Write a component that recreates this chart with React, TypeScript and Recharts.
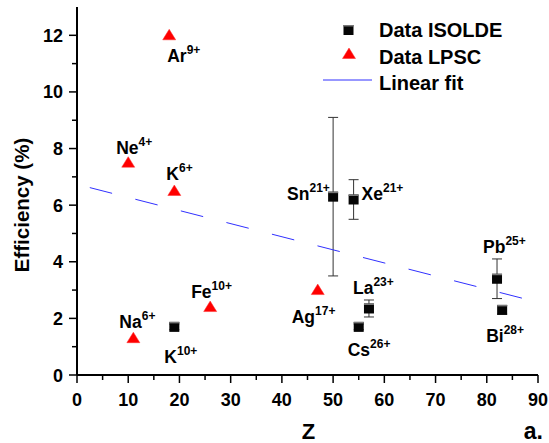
import {
  ErrorBar,
  Legend,
  Scatter,
  ScatterChart,
  XAxis,
  YAxis,
} from "recharts";

// ISOLDE measurements (black squares with error bars)
const isoldeZ = [19, 50, 54, 55, 57, 82, 83];
const isoldeEff = [1.7, 6.3, 6.2, 1.7, 2.35, 3.4, 2.3];
const isoldeErr = [0.1, 2.8, 0.7, 0.1, 0.3, 0.7, 0.15];
const isoldeIon = ["K", "Sn", "Xe", "Cs", "La", "Pb", "Bi"];
const isoldeCharge = ["10+", "21+", "21+", "26+", "23+", "25+", "28+"];

// LPSC measurements (red triangles)
const lpscZ = [18, 10, 19, 26, 11, 47];
const lpscEff = [12, 7.5, 6.5, 2.4, 1.3, 3.0];
const lpscIon = ["Ar", "Ne", "K", "Fe", "Na", "Ag"];
const lpscCharge = ["9+", "4+", "6+", "10+", "6+", "17+"];

// linear fit end points
const fitZ = [2.5, 90];
const fitEff = [6.62, 2.57];

const xTicks = [0, 5, 10, 15, 20, 25, 30, 35, 40, 45, 50, 55, 60, 65, 70, 75, 80, 85, 90];
const yTicks = [0, 1, 2, 3, 4, 5, 6, 7, 8, 9, 10, 11, 12];
const yTicksRight = [0, 1, 2, 3, 4, 5, 6, 7, 8, 9, 10, 11, 12, 13];

// where each ion label sits relative to its marker (text start, baseline)
const labelOffset: Record<string, [number, number]> = {
  Ar9: [-2, 27],
  Ne4: [-12, -9],
  K6: [-8, -11],
  Fe10: [-19, -9],
  Na6: [-14, -10],
  Ag17: [-26, 33],
  K10: [-10, 36],
  Sn21: [-46, 3],
  Xe21: [8, 1],
  Cs26: [-11, 29],
  La23: [-16, -14],
  Pb25: [-14, -26],
  Bi28: [-16, 32],
};

const FONT = "Arial, 'Liberation Sans', Helvetica, sans-serif";

const isoldeData = isoldeZ.map((z, i) => ({
  z,
  eff: isoldeEff[i],
  err: isoldeErr[i],
  ion: isoldeIon[i],
  charge: isoldeCharge[i],
}));
const lpscData = lpscZ.map((z, i) => ({
  z,
  eff: lpscEff[i],
  ion: lpscIon[i],
  charge: lpscCharge[i],
}));
const fitData = fitZ.map((z, i) => ({ z, eff: fitEff[i] }));

function IonLabel({ cx, cy, ion, charge }: any) {
  const [dx, dy] = labelOffset[ion + charge.replace("+", "")] || [0, -12];
  return (
    <text x={cx + dx} y={cy + dy} fontFamily={FONT} fontSize={17.5} fontWeight="bold" fill="#000">
      <tspan>{ion}</tspan>
      <tspan dy={-8} fontSize={12}>
        {charge}
      </tspan>
    </text>
  );
}

function Square({ cx, cy }: { cx: number; cy: number }) {
  return (
    <g>
      <rect x={cx - 5} y={cy - 5} width={10} height={10} fill="#050505" />
      <rect x={cx - 5} y={cy - 5} width={10} height={1.5} fill="#777" />
    </g>
  );
}

function Triangle({ cx, cy }: { cx: number; cy: number }) {
  return (
    <polygon
      points={`${cx},${cy - 6} ${cx + 6.5},${cy + 4.5} ${cx - 6.5},${cy + 4.5}`}
      fill="#ff0000"
      stroke="#ff2a2a"
      strokeWidth={0.5}
    />
  );
}

function BottomTick({ x, y, payload }: any) {
  const major = payload.value % 10 === 0;
  return (
    <g>
      <line x1={x} x2={x} y1={y} y2={y + (major ? 8 : 5)} stroke="#000" strokeWidth={1.5} />
      {major && (
        <text
          x={x}
          y={y + 31}
          textAnchor="middle"
          fontFamily={FONT}
          fontSize={18}
          fontWeight="bold"
          fill="#000"
        >
          {payload.value}
        </text>
      )}
    </g>
  );
}

function LeftTick({ x, y, payload }: any) {
  const major = payload.value % 2 === 0;
  return (
    <g>
      <line x1={x - (major ? 8 : 5)} x2={x} y1={y} y2={y} stroke="#000" strokeWidth={1.5} />
      {major && (
        <text
          x={x - 14}
          y={y + 6.5}
          textAnchor="end"
          fontFamily={FONT}
          fontSize={18}
          fontWeight="bold"
          fill="#000"
        >
          {payload.value}
        </text>
      )}
    </g>
  );
}

function TopTick({ x, y, payload }: any) {
  const major = payload.value % 10 === 0;
  return <line x1={x} x2={x} y1={y} y2={y - (major ? 5 : 3)} stroke="#000" strokeWidth={1} />;
}

function RightTick({ x, y, payload }: any) {
  const major = payload.value % 2 === 0;
  return <line x1={x} x2={x + (major ? 5 : 3)} y1={y} y2={y} stroke="#000" strokeWidth={1} />;
}

function LegendBox() {
  const t = { fontFamily: FONT, fontSize: 20, fontWeight: "bold" as const, fill: "#000" };
  return (
    <svg width={230} height={95} style={{ display: "block" }}>
      <g transform="translate(-300,-5)">
        <Square cx={348.5} cy={30} />
        <text x={379} y={37} {...t}>
          Data ISOLDE
        </text>
        <Triangle cx={349} cy={54} />
        <text x={379} y={63.5} {...t}>
          Data LPSC
        </text>
        <line x1={323} x2={372} y1={80} y2={80} stroke="#3030ff" strokeWidth={1} />
        <text x={379} y={90} {...t}>
          Linear fit
        </text>
      </g>
    </svg>
  );
}

export default function App() {
  return (
    <div style={{ position: "absolute", left: 0, top: 0, background: "#fff" }}>
      <ScatterChart width={549} height={443} margin={{ top: 7, right: 11, bottom: 0, left: 0 }}>
        <XAxis
          dataKey="z"
          type="number"
          domain={[0, 90]}
          ticks={xTicks}
          interval={0}
          height={68}
          tickSize={0}
          tickMargin={0}
          tickLine={false}
          tick={<BottomTick />}
          axisLine={{ stroke: "#000", strokeWidth: 2 }}
          label={({ viewBox }: any) => (
            <g>
              <text
                x={viewBox.x + viewBox.width / 2 + 1}
                y={viewBox.y + 64}
                textAnchor="middle"
                fontFamily={FONT}
                fontSize={22}
                fontWeight="bold"
                fill="#000"
              >
                Z
              </text>
              <text
                x={viewBox.x + viewBox.width + 5}
                y={viewBox.y + 64}
                textAnchor="end"
                fontFamily={FONT}
                fontSize={23}
                fontWeight="bold"
                fill="#000"
              >
                a.
              </text>
            </g>
          )}
        />
        <XAxis
          xAxisId="top"
          orientation="top"
          type="number"
          domain={[0, 90]}
          ticks={xTicks}
          interval={0}
          height={0}
          tickSize={0}
          tickMargin={0}
          tickLine={false}
          tick={<TopTick />}
          axisLine={{ stroke: "#000", strokeWidth: 1.5 }}
        />
        <YAxis
          dataKey="eff"
          type="number"
          domain={[0, 13]}
          ticks={yTicks}
          interval={0}
          width={77}
          tickSize={0}
          tickMargin={0}
          tickLine={false}
          tick={<LeftTick />}
          axisLine={{ stroke: "#000", strokeWidth: 2 }}
          label={({ viewBox }: any) => (
            <text
              transform={`translate(${viewBox.x + 29}, ${viewBox.y + 205 - 7}) rotate(-90)`}
              textAnchor="middle"
              fontFamily={FONT}
              fontSize={20.5}
              fontWeight="bold"
              fill="#000"
            >
              Efficiency (%)
            </text>
          )}
        />
        <YAxis
          yAxisId="right"
          orientation="right"
          type="number"
          domain={[0, 13]}
          ticks={yTicksRight}
          interval={0}
          width={0}
          tickSize={0}
          tickMargin={0}
          tickLine={false}
          tick={<RightTick />}
          axisLine={{ stroke: "#000", strokeWidth: 1.5 }}
        />
        <Legend
          layout="horizontal"
          verticalAlign="middle"
          align="center"
          wrapperStyle={{ left: 300, top: 5, width: 230 }}
          content={() => <LegendBox />}
        />
        <Scatter
          name="Linear fit"
          data={fitData}
          line={{ stroke: "#3030ff", strokeWidth: 1, strokeDasharray: "23 24" }}
          shape={() => <g />}
          isAnimationActive={false}
        />
        <Scatter
          name="Data ISOLDE"
          data={isoldeData}
          isAnimationActive={false}
          shape={(p: any) => (
            <g>
              <Square cx={p.cx} cy={p.cy} />
              <IonLabel cx={p.cx} cy={p.cy} ion={p.payload.ion} charge={p.payload.charge} />
            </g>
          )}
        >
          <ErrorBar dataKey="err" direction="y" width={5} stroke="#333" strokeWidth={1} />
        </Scatter>
        <Scatter
          name="Data LPSC"
          data={lpscData}
          isAnimationActive={false}
          shape={(p: any) => (
            <g>
              <Triangle cx={p.cx} cy={p.cy} />
              <IonLabel cx={p.cx} cy={p.cy} ion={p.payload.ion} charge={p.payload.charge} />
            </g>
          )}
        />
      </ScatterChart>
    </div>
  );
}
